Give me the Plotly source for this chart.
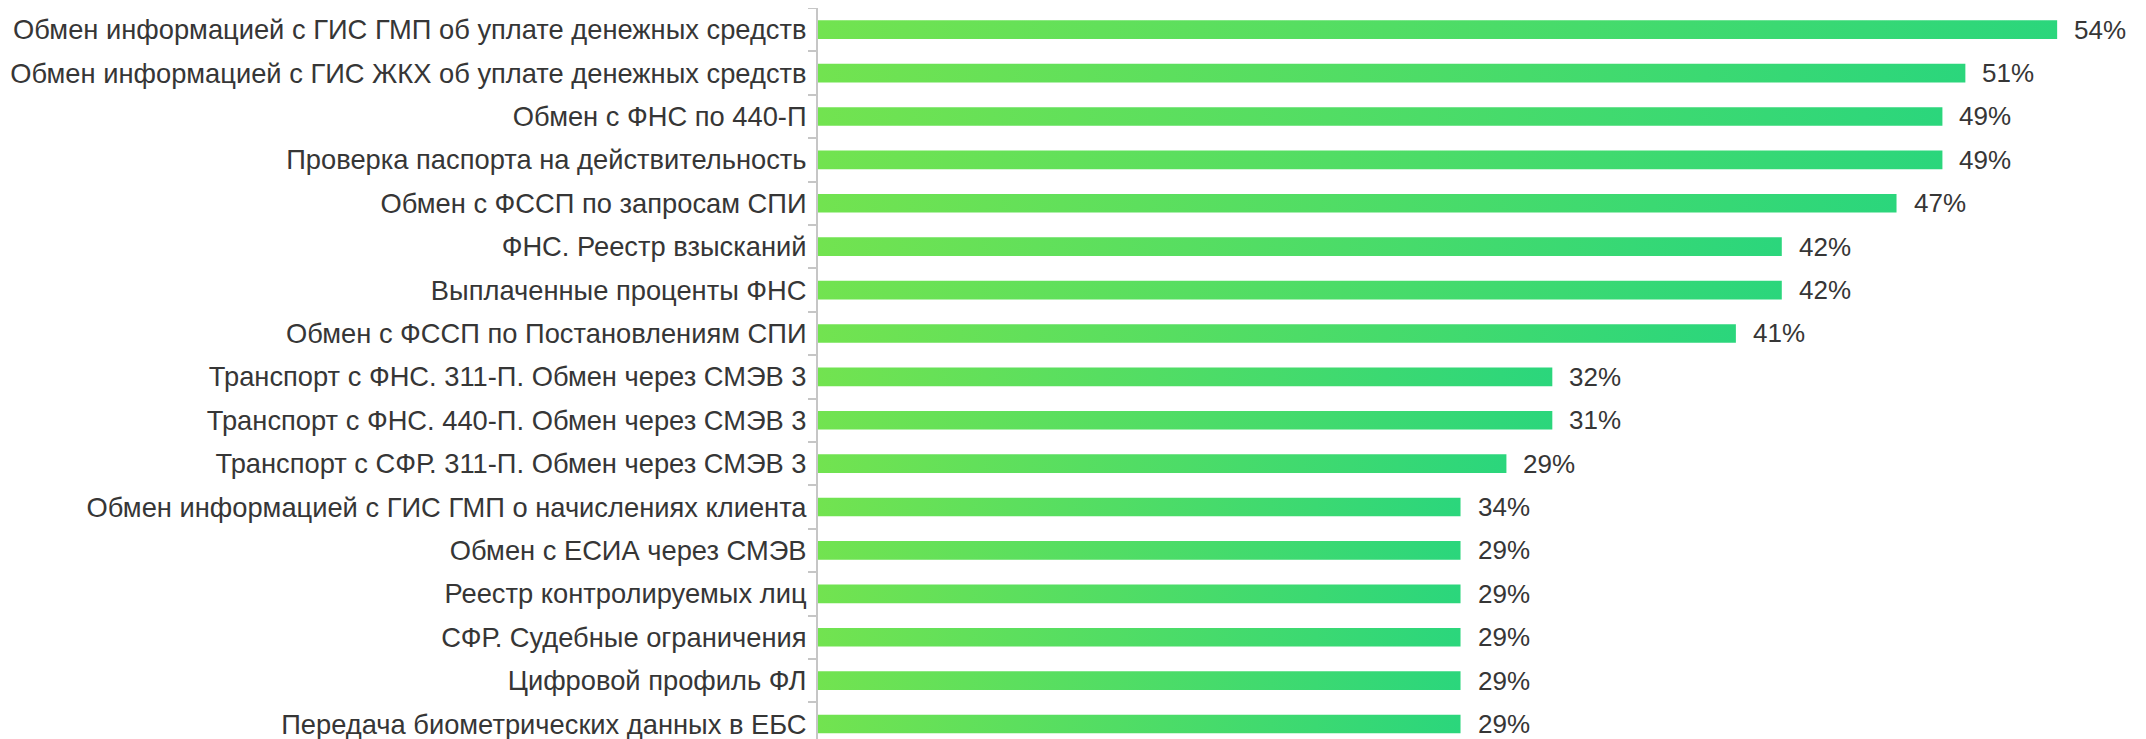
import plotly.graph_objects as go

categories = [
    "Обмен информацией с ГИС ГМП об уплате денежных средств",
    "Обмен информацией с ГИС ЖКХ об уплате денежных средств",
    "Обмен с ФНС по 440-П",
    "Проверка паспорта на действительность",
    "Обмен с ФССП по запросам СПИ",
    "ФНС. Реестр взысканий",
    "Выплаченные проценты ФНС",
    "Обмен с ФССП по Постановлениям СПИ",
    "Транспорт с ФНС. 311-П. Обмен через СМЭВ 3",
    "Транспорт с ФНС. 440-П. Обмен через СМЭВ 3",
    "Транспорт с СФР. 311-П. Обмен через СМЭВ 3",
    "Обмен информацией с ГИС ГМП о начислениях клиента",
    "Обмен с ЕСИА через СМЭВ",
    "Реестр контролируемых лиц",
    "СФР. Судебные ограничения",
    "Цифровой профиль ФЛ",
    "Передача биометрических данных в ЕБС",
]
# bar lengths as drawn (percent)
bar_values = [54, 50, 49, 49, 47, 42, 42, 40, 32, 32, 30, 28, 28, 28, 28, 28, 28]
# value labels as printed
value_labels = ["54%", "51%", "49%", "49%", "47%", "42%", "42%", "41%", "32%", "31%",
                "29%", "34%", "29%", "29%", "29%", "29%", "29%"]

FONT = "Liberation Sans, Arial, sans-serif"
TEXT_COLOR = "#363636"
AXIS_COLOR = "#c6c6c6"
GRAD = [[0, "#72E350"], [1, "#2BD67C"]]
HALF = 0.215

fig = go.Figure()
for i, v in enumerate(bar_values):
    fig.add_trace(go.Scatter(
        x=[0, v, v, 0, 0],
        y=[i - HALF, i - HALF, i + HALF, i + HALF, i - HALF],
        mode="lines",
        line=dict(width=0),
        fill="toself",
        fillgradient=dict(type="horizontal", colorscale=GRAD, start=0, stop=v),
        showlegend=False,
        hoverinfo="skip",
    ))

for i, (v, t) in enumerate(zip(bar_values, value_labels)):
    fig.add_annotation(
        x=v, y=i, text=t, showarrow=False, xanchor="left", yanchor="middle",
        xshift=15, font=dict(family=FONT, size=26, color=TEXT_COLOR),
    )

n = len(categories)
fig.update_layout(
    width=2146, height=739,
    margin=dict(l=810, r=28, t=0, b=0),
    paper_bgcolor="white", plot_bgcolor="white",
    font=dict(family=FONT, size=26, color=TEXT_COLOR),
    xaxis=dict(range=[0, 57], visible=False, showgrid=False, zeroline=False,
               automargin=False),
    yaxis=dict(
        range=[16.53, -0.5],
        automargin=False,
        tickmode="array", tickvals=list(range(n)), ticktext=categories,
        ticks="outside", ticklen=7, tickcolor="rgba(0,0,0,0)", tickwidth=2,
        showline=True, linecolor=AXIS_COLOR, linewidth=2,
        showgrid=False, zeroline=False,
        minor=dict(tickmode="array", tickvals=[k - 0.5 for k in range(n + 1)],
                   ticks="outside", ticklen=8, tickwidth=2, tickcolor=AXIS_COLOR,
                   showgrid=False),
        tickfont=dict(family=FONT, size=27.3, color=TEXT_COLOR),
        ticklabelstandoff=-3,
    ),
)

fig.write_html("out.html")
